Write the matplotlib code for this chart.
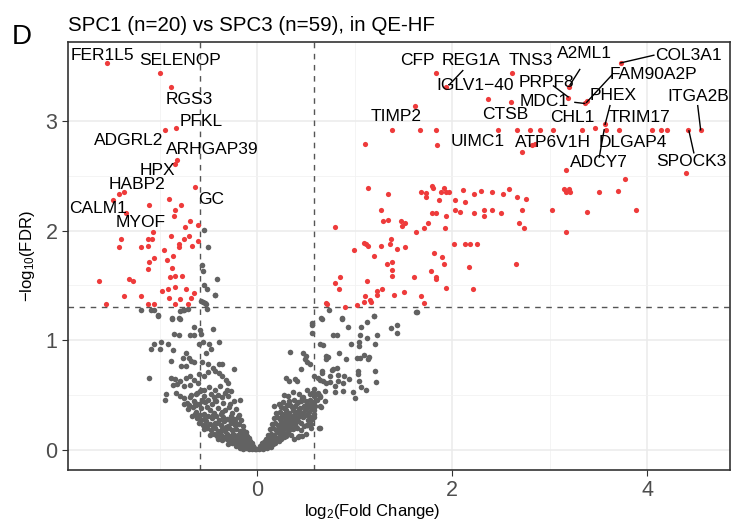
import matplotlib
matplotlib.use("Agg")
import matplotlib.pyplot as plt

plt.rcParams['font.family'] = ['Liberation Sans', 'DejaVu Sans']
plt.rcParams['mathtext.fontset'] = 'custom'
plt.rcParams['mathtext.rm'] = 'Liberation Sans'
plt.rcParams['mathtext.it'] = 'Liberation Sans:italic'

# significant proteins (red), log2 fold change and -log10 FDR
red_x = [-1.54, -1.00, -0.88, -0.83, -0.94, -0.82, -0.84,
         -0.635, -1.37, -1.42, -1.48, -1.11, -0.90, -0.78, -0.84, -1.35, -0.85, -0.69, -0.74, -0.61,
         -1.07, -1.40, -1.12, -1.08, -0.88, -0.70, -0.75, -0.61, -0.80, -0.80, -0.67, -1.42, -1.19,
         -1.12, -0.96, -0.86, -1.06, -0.92, -1.11, -1.12, -0.87, -0.89, -0.84, -0.77, -1.62, -1.31,
         -1.27, -0.98, -0.91, -0.84, -0.73, -0.65, -1.37, -1.19, -0.90, -0.79, -0.68, -1.55, -1.12,
         -1.06, -0.84, -0.71,
         1.83, 1.94, 1.62, 1.38, 1.67, 1.83, 1.11, 1.85, 2.37, 2.60, 2.61, 2.47, 2.67,
         3.73, 3.20, 3.19, 3.36, 3.38, 3.47, 3.57,
         2.80, 2.90, 3.04, 3.33, 3.58, 3.71, 4.05, 4.14, 4.20, 4.42, 4.55,
         2.85, 2.82, 2.72, 3.17, 3.77, 4.40,
         1.14, 1.34, 1.68, 1.73, 1.73, 1.79, 1.80, 1.92, 1.89, 1.94, 1.97, 1.87, 2.03, 2.11, 2.13,
         2.23, 2.30, 2.41, 2.52, 2.58, 2.67, 2.76, 2.72, 2.69, 2.74, 2.03, 2.08, 2.23, 2.33, 2.33,
         2.41, 2.50, 1.27, 1.29, 1.34, 1.48, 1.52, 1.49, 1.75, 1.79, 1.84, 1.94, 1.71, 1.93, 1.63,
         0.80, 1.10, 1.12, 1.14, 1.37, 1.36, 1.27, 1.52, 1.44, 0.99, 1.20, 2.02, 2.13, 2.18, 2.26,
         1.81, 1.90, 1.92, 2.66, 2.17, 1.38, 1.33, 1.38, 1.38, 1.61, 1.78, 1.83, 1.83, 0.85, 0.80,
         0.84, 1.13, 1.28, 1.23, 1.23, 1.94, 2.21, 1.51, 1.40, 1.11, 1.16, 1.17, 1.10, 1.68, 1.71,
         1.02, 0.90, 0.71, 0.72,
         3.15, 3.20, 3.17, 3.21, 3.51, 3.70, 3.03, 3.38, 3.89, 3.17]
red_y = [3.53, 3.44, 3.31, 2.94, 2.92, 2.64, 2.61,
         2.40, 2.35, 2.33, 2.28, 2.23, 2.29, 2.23, 2.19, 2.16, 2.13, 2.09, 2.03, 2.05,
         1.99, 1.92, 1.92, 1.92, 1.95, 1.95, 1.92, 1.91, 1.88, 1.85, 1.86, 1.85, 1.85,
         1.86, 1.82, 1.77, 1.75, 1.73, 1.71, 1.65, 1.66, 1.58, 1.59, 1.59, 1.54, 1.56,
         1.54, 1.45, 1.47, 1.49, 1.47, 1.43, 1.40, 1.40, 1.39, 1.38, 1.39, 1.33, 1.33,
         1.33, 1.33, 1.33,
         3.44, 3.31, 3.14, 2.92, 2.92, 2.92, 2.79, 2.78, 3.20, 3.17, 3.44, 2.92, 2.92,
         3.53, 3.31, 3.21, 3.16, 3.18, 2.94, 2.97,
         2.92, 2.92, 2.92, 2.92, 2.92, 2.92, 2.92, 2.92, 2.92, 2.92, 2.92,
         2.79, 2.78, 2.72, 2.55, 2.47, 2.53,
         2.39, 2.33, 2.35, 2.34, 2.31, 2.41, 2.39, 2.39, 2.35, 2.35, 2.35, 2.28, 2.28, 2.37, 2.26,
         2.33, 2.36, 2.35, 2.33, 2.38, 2.31, 2.29, 2.19, 2.07, 2.02, 2.19, 2.17, 2.16, 2.19, 2.13,
         2.19, 2.16, 2.19, 2.09, 2.10, 2.09, 2.07, 2.04, 2.07, 2.16, 2.16, 2.13, 2.02, 2.02, 1.99,
         2.03, 1.89, 1.88, 1.86, 1.92, 1.88, 1.86, 1.85, 1.83, 1.82, 1.77, 1.88, 1.88, 1.88, 1.88,
         1.80, 1.76, 1.70, 1.70, 1.67, 1.71, 1.70, 1.64, 1.59, 1.58, 1.63, 1.58, 1.56, 1.58, 1.52,
         1.47, 1.54, 1.47, 1.45, 1.41, 1.48, 1.47, 1.44, 1.41, 1.40, 1.37, 1.35, 1.35, 1.40, 1.34,
         1.32, 1.30, 1.34, 1.33,
         2.38, 2.38, 2.35, 2.35, 2.35, 2.36, 2.19, 2.17, 2.19, 1.99]

# non-significant proteins (grey)
grey_pts = [
    # left arm, upper scatter
    (-0.54, 2.01), (-0.50, 1.85), (-0.57, 1.69), (-0.56, 1.63), (-0.41, 1.56), (-0.55, 1.50),
    (-0.51, 1.47), (-0.43, 1.41), (-0.58, 1.36), (-0.53, 1.34), (-0.51, 1.29), (-1.19, 1.28),
    (-1.09, 1.28), (-1.02, 1.22), (-0.87, 1.20), (-0.80, 1.20), (-0.75, 1.28), (-0.71, 1.29),
    (-0.79, 1.27), (-1.06, 1.28), (-1.02, 1.23), (-0.87, 1.19), (-0.79, 1.19), (-0.76, 1.28),
    (-0.65, 1.12), (-0.69, 1.05), (-0.65, 1.05), (-0.59, 1.09), (-0.58, 1.06), (-0.45, 1.10),
    (-0.43, 1.41), (-0.56, 1.35), (-0.52, 1.33), (-0.85, 1.06), (-0.80, 1.05), (-1.06, 0.97),
    (-0.99, 0.98), (-0.91, 0.97), (-1.09, 0.92), (-1.00, 0.92), (-0.86, 0.91), (-0.60, 0.97),
    (-0.56, 0.98), (-0.49, 0.97), (-0.39, 0.98), (-0.47, 0.92), (-0.52, 0.88), (-0.73, 0.88),
    (-0.76, 0.84), (-0.70, 0.84), (-0.68, 0.81), (-0.88, 0.81), (-0.65, 0.80), (-0.78, 0.77),
    (-0.73, 0.77), (-0.57, 0.80), (-0.50, 0.78), (-0.45, 0.75), (-0.39, 0.78), (-0.36, 0.78),
    (-0.24, 0.74), (-1.11, 0.66), (-0.88, 0.66), (-0.84, 0.65), (-0.79, 0.63), (-0.73, 0.66),
    (-0.69, 0.67), (-0.65, 0.64), (-0.61, 0.61), (-0.60, 0.69), (-0.55, 0.67), (-0.50, 0.71),
    (-0.43, 0.72), (-0.39, 0.70), (-0.36, 0.67), (-0.32, 0.64), (-0.30, 0.61), (-0.86, 0.59),
    (-0.82, 0.60), (-0.75, 0.58), (-0.69, 0.59), (-0.93, 0.51), (-0.94, 0.46), (-0.83, 0.52),
    (-0.79, 0.49), (-0.75, 0.47), (-0.69, 0.48), (-0.63, 0.51), (-0.59, 0.54), (-0.54, 0.55),
    (-0.49, 0.57), (-0.43, 0.55), (-0.38, 0.58), (-0.31, 0.55), (-0.27, 0.54), (-0.75, 0.42),
    (-0.70, 0.41), (-0.64, 0.43), (-0.56, 0.45), (-0.50, 0.46), (-0.43, 0.46), (-0.36, 0.48),
    (-0.30, 0.49), (-0.24, 0.45), (-0.18, 0.46),
    # left arm, dense core
    (-0.71, 0.37), (-0.66, 0.39), (-0.63, 0.35), (-0.58, 0.38), (-0.55, 0.33), (-0.51, 0.39),
    (-0.48, 0.36), (-0.44, 0.34), (-0.40, 0.38), (-0.37, 0.33), (-0.33, 0.36), (-0.29, 0.39),
    (-0.26, 0.34), (-0.22, 0.37), (-0.19, 0.32), (-0.67, 0.31), (-0.62, 0.29), (-0.59, 0.32),
    (-0.54, 0.28), (-0.50, 0.31), (-0.46, 0.29), (-0.42, 0.31), (-0.39, 0.27), (-0.35, 0.30),
    (-0.31, 0.28), (-0.27, 0.31), (-0.24, 0.28), (-0.20, 0.30), (-0.17, 0.27), (-0.60, 0.25),
    (-0.56, 0.23), (-0.52, 0.26), (-0.48, 0.24), (-0.45, 0.22), (-0.41, 0.25), (-0.37, 0.23),
    (-0.34, 0.26), (-0.30, 0.22), (-0.27, 0.25), (-0.23, 0.23), (-0.19, 0.24), (-0.15, 0.22),
    (-0.55, 0.19), (-0.51, 0.20), (-0.47, 0.18), (-0.43, 0.20), (-0.40, 0.17), (-0.36, 0.19),
    (-0.33, 0.17), (-0.29, 0.20), (-0.26, 0.18), (-0.22, 0.19), (-0.18, 0.17), (-0.14, 0.18),
    (-0.11, 0.16), (-0.48, 0.14), (-0.44, 0.15), (-0.41, 0.13), (-0.37, 0.14), (-0.34, 0.12),
    (-0.31, 0.15), (-0.28, 0.13), (-0.24, 0.14), (-0.21, 0.12), (-0.17, 0.14), (-0.13, 0.12),
    (-0.10, 0.13), (-0.08, 0.11), (-0.40, 0.10), (-0.36, 0.09), (-0.33, 0.11), (-0.29, 0.08),
    (-0.26, 0.10), (-0.23, 0.08), (-0.19, 0.09), (-0.16, 0.07), (-0.13, 0.09), (-0.10, 0.07),
    (-0.07, 0.08), (-0.05, 0.06), (-0.30, 0.05), (-0.26, 0.06), (-0.22, 0.04), (-0.19, 0.05),
    (-0.16, 0.04), (-0.13, 0.05), (-0.10, 0.03), (-0.08, 0.04), (-0.06, 0.03), (-0.04, 0.04),
    (-0.03, 0.02), (-0.18, 0.02), (-0.14, 0.01), (-0.11, 0.02), (-0.08, 0.01), (-0.05, 0.01),
    (-0.02, 0.01), (-0.01, 0.005), (-0.72, 0.43), (-0.65, 0.45), (-0.60, 0.42), (-0.53, 0.44),
    (-0.46, 0.42), (-0.42, 0.45), (-0.35, 0.43), (-0.28, 0.42), (-0.63, 0.41), (-0.57, 0.46),
    (-0.68, 0.50), (-0.62, 0.52), (-0.55, 0.49), (-0.47, 0.51), (-0.40, 0.50), (-0.33, 0.52),
    (-0.44, 0.48), (-0.58, 0.55),
    (-0.35, 0.12), (-0.31, 0.10), (-0.27, 0.11), (-0.24, 0.07), (-0.21, 0.09), (-0.17, 0.10),
    (-0.15, 0.06), (-0.12, 0.08), (-0.09, 0.05), (-0.07, 0.06), (-0.12, 0.03), (-0.15, 0.03),
    (-0.20, 0.06), (-0.25, 0.15), (-0.20, 0.14), (-0.16, 0.16), (-0.12, 0.14), (-0.09, 0.10),
    (-0.38, 0.16), (-0.43, 0.25), (-0.32, 0.21), (-0.28, 0.27), (-0.23, 0.26), (-0.52, 0.22),
    (-0.58, 0.27), (-0.64, 0.33), (-0.45, 0.32), (-0.36, 0.35),
    # right arm, upper scatter
    (0.74, 1.28), (0.67, 1.19), (0.87, 1.19), (0.93, 1.12), (1.07, 1.12), (1.13, 1.17),
    (1.20, 1.22), (1.37, 1.11), (1.44, 1.14), (1.44, 1.07), (1.23, 1.05), (1.06, 1.05),
    (1.13, 1.02), (0.78, 1.05), (0.82, 1.05), (1.21, 0.97), (0.96, 0.97), (1.04, 0.98),
    (1.05, 0.95), (1.64, 1.26), (0.65, 0.97), (0.68, 0.96), (0.56, 1.16), (0.56, 1.07),
    (0.50, 0.86), (0.71, 0.83), (0.73, 0.85), (0.84, 0.88), (0.91, 0.83), (1.02, 0.84),
    (1.06, 0.84), (1.10, 0.87), (1.15, 0.85), (1.14, 0.83), (0.54, 0.78), (0.67, 0.72),
    (0.67, 0.70), (0.77, 0.73), (0.82, 0.75), (1.03, 0.72), (1.03, 0.69), (1.21, 0.72),
    (0.58, 0.67), (0.62, 0.66), (0.65, 0.64), (0.68, 0.63), (0.71, 0.61), (0.75, 0.62),
    (0.75, 0.67), (0.83, 0.68), (0.83, 0.63), (0.89, 0.67), (0.94, 0.65), (0.88, 0.61),
    (1.05, 0.63), (1.07, 0.57), (1.12, 0.55), (1.22, 0.62), (0.80, 0.58), (0.80, 0.53),
    (0.88, 0.54), (0.98, 0.53), (1.00, 0.47), (0.58, 0.56), (0.60, 0.51), (0.65, 0.49),
    (0.70, 0.45), (0.65, 0.40), (0.58, 0.33), (0.56, 0.28), (0.63, 0.20), (0.55, 0.20),
    (0.51, 0.23), (0.66, 1.20), (0.87, 1.20), (1.20, 1.22), (1.63, 1.26), (0.34, 0.89),
    (0.47, 0.88), (0.45, 0.74), (0.56, 1.14), (0.49, 0.83), (0.51, 0.80), (0.71, 0.86),
    (0.78, 0.74), (0.30, 0.66), (0.33, 0.63), (0.39, 0.65), (0.41, 0.63), (0.28, 0.50),
    (0.32, 0.49), (0.37, 0.53), (0.43, 0.51), (0.47, 0.48), (0.51, 0.55), (0.54, 0.51),
    (0.58, 0.49), (0.62, 0.52), (0.65, 0.48), (0.70, 0.54), (0.17, 0.40), (0.22, 0.42),
    (0.27, 0.44), (0.34, 0.41), (0.41, 0.43), (0.45, 0.45), (0.51, 0.42), (0.58, 0.44),
    (0.66, 0.39), (0.58, 0.36), (0.54, 0.30), (0.64, 0.20), (0.43, 0.13), (0.46, 0.13),
    (0.41, 0.20), (0.51, 0.23),
    # right arm, dense core
    (0.02, 0.01), (0.04, 0.02), (0.06, 0.01), (0.08, 0.03), (0.10, 0.02), (0.12, 0.04),
    (0.03, 0.04), (0.14, 0.03), (0.16, 0.05), (0.05, 0.06), (0.07, 0.07), (0.10, 0.06),
    (0.13, 0.08), (0.16, 0.07), (0.19, 0.09), (0.22, 0.08), (0.09, 0.10), (0.12, 0.11),
    (0.15, 0.10), (0.18, 0.12), (0.21, 0.11), (0.25, 0.10), (0.28, 0.12), (0.11, 0.14),
    (0.14, 0.15), (0.17, 0.14), (0.20, 0.16), (0.23, 0.15), (0.26, 0.17), (0.29, 0.15),
    (0.32, 0.16), (0.35, 0.14), (0.13, 0.19), (0.16, 0.20), (0.19, 0.18), (0.22, 0.21),
    (0.25, 0.19), (0.28, 0.21), (0.31, 0.20), (0.34, 0.22), (0.37, 0.19), (0.40, 0.21),
    (0.15, 0.24), (0.18, 0.25), (0.21, 0.23), (0.24, 0.26), (0.27, 0.24), (0.30, 0.26),
    (0.33, 0.25), (0.36, 0.27), (0.39, 0.24), (0.42, 0.26), (0.45, 0.25), (0.17, 0.29),
    (0.20, 0.30), (0.23, 0.28), (0.26, 0.31), (0.29, 0.29), (0.32, 0.31), (0.35, 0.30),
    (0.38, 0.32), (0.41, 0.29), (0.44, 0.31), (0.47, 0.30), (0.50, 0.32), (0.19, 0.34),
    (0.23, 0.35), (0.26, 0.33), (0.30, 0.36), (0.33, 0.34), (0.37, 0.36), (0.40, 0.35),
    (0.43, 0.37), (0.46, 0.34), (0.49, 0.36), (0.53, 0.35), (0.56, 0.37), (0.24, 0.39),
    (0.28, 0.38), (0.31, 0.41), (0.36, 0.39), (0.39, 0.40), (0.44, 0.38), (0.48, 0.40),
    (0.52, 0.39), (0.55, 0.41), (0.59, 0.40), (0.33, 0.45), (0.38, 0.46), (0.42, 0.44),
    (0.46, 0.47), (0.50, 0.45), (0.54, 0.46), (0.57, 0.44), (0.61, 0.46), (0.63, 0.50),
    (0.56, 0.52), (0.48, 0.22), (0.52, 0.27), (0.55, 0.24), (0.58, 0.30), (0.45, 0.18),
    (0.50, 0.15), (0.42, 0.12), (0.38, 0.10),
    (0.03, 0.02), (0.05, 0.03), (0.07, 0.04), (0.09, 0.05), (0.11, 0.07), (0.13, 0.05),
    (0.15, 0.08), (0.18, 0.06), (0.20, 0.10), (0.23, 0.12), (0.26, 0.13), (0.30, 0.13),
    (0.27, 0.18), (0.24, 0.22), (0.30, 0.23), (0.34, 0.19), (0.36, 0.24), (0.40, 0.27),
    (0.43, 0.33), (0.38, 0.29), (0.33, 0.28), (0.29, 0.33), (0.08, 0.08), (0.17, 0.11),
    (0.21, 0.19),
]
grey_x = [p[0] for p in grey_pts]
grey_y = [p[1] for p in grey_pts]

# gene labels: text, label position, optional leader segment end near the point
labels = [
    ("FER1L5", -1.59, 3.60, None), ("SELENOP", -0.79, 3.55, None), ("RGS3", -0.70, 3.20, None),
    ("PFKL", -0.57, 3.00, None), ("ADGRL2", -1.32, 2.82, None), ("ARHGAP39", -0.46, 2.74, None),
    ("HPX", -1.02, 2.55, None), ("HABP2", -1.23, 2.42, None), ("CALM1", -1.63, 2.20, None),
    ("GC", -0.47, 2.28, None), ("MYOF", -1.20, 2.07, None),
    ("CFP", 1.64, 3.55, None), ("REG1A", 2.19, 3.55, ((2.11, 3.46), (1.97, 3.33))),
    ("TNS3", 2.81, 3.55, None), ("A2ML1", 3.36, 3.62, ((3.31, 3.47), (3.21, 3.33))),
    ("COL3A1", 4.42, 3.60, ((4.07, 3.60), (3.73, 3.53))),
    ("IGLV1\u221240", 2.24, 3.32, None),
    ("FAM90A2P", 4.07, 3.42, ((3.64, 3.42), (3.38, 3.17))),
    ("PRPF8", 2.97, 3.35, ((3.04, 3.32), (3.19, 3.22))),
    ("MDC1", 2.95, 3.18, ((3.26, 3.17), (3.36, 3.16))),
    ("PHEX", 3.65, 3.23, ((3.62, 3.14), (3.57, 2.97))),
    ("ITGA2B", 4.53, 3.22, ((4.52, 3.14), (4.55, 2.92))),
    ("TIMP2", 1.43, 3.04, None), ("CTSB", 2.55, 3.06, None), ("CHL1", 3.23, 3.03, None),
    ("TRIM17", 3.92, 3.03, None), ("UIMC1", 2.26, 2.81, None), ("ATP6V1H", 3.04, 2.80, None),
    ("DLGAP4", 3.85, 2.80, None), ("ADCY7", 3.51, 2.62, ((3.51, 2.67), (3.56, 2.92))),
    ("SPOCK3", 4.45, 2.63, ((4.48, 2.71), (4.43, 2.91))),
]

fig = plt.figure(figsize=(7.41, 5.29), dpi=100)
ax = fig.add_axes([0.0918, 0.1115, 0.8932, 0.8090])

ax.scatter(grey_x, grey_y, s=16, color='#626262', linewidths=0, zorder=3)
ax.scatter(red_x, red_y, s=14, color='#ee3b3b', linewidths=0, zorder=3)

ax.axvline(-0.585, color='#555555', lw=1, ls=(0, (4, 4)), zorder=2)
ax.axvline(0.585, color='#555555', lw=1, ls=(0, (4, 4)), zorder=2)
ax.axhline(1.301, color='#555555', lw=1, ls=(0, (4, 4)), zorder=2)

for txt, lx, ly, seg in labels:
    ax.text(lx, ly, txt, ha='center', va='center', fontsize=12.5, color='black', zorder=5)
    if seg is not None:
        ax.plot([seg[0][0], seg[1][0]], [seg[0][1], seg[1][1]], color='black', lw=1, zorder=4)

ax.set_xlim(-1.94, 4.85)
ax.set_ylim(-0.183, 3.72)
ax.set_xticks([0, 2, 4])
ax.set_yticks([0, 1, 2, 3])
ax.set_xticks([-1, 1, 3], minor=True)
ax.set_yticks([0.5, 1.5, 2.5], minor=True)
ax.grid(True, which='major', color='#ebebeb', lw=1.1, zorder=0)
ax.grid(True, which='minor', color='#f2f2f2', lw=0.6, zorder=0)
ax.set_axisbelow(True)
ax.tick_params(which='major', length=4, color='#333333', labelsize=15.5, labelcolor='#4d4d4d')
ax.tick_params(which='minor', length=0)
for sp in ax.spines.values():
    sp.set_color('#333333')
    sp.set_linewidth(1.2)

ax.set_xlabel(r'log$_2$(Fold Change)', fontsize=12, labelpad=4)
ax.xaxis.set_label_coords(0.46, -0.075)
ax.set_ylabel(r'$-$log$_{10}$(FDR)', fontsize=12, labelpad=6)

ax.set_title('SPC1 (n=20) vs SPC3 (n=59), in QE-HF', fontsize=14.8, loc='left', pad=8, x=0.0)
fig.text(0.016, 0.93, 'D', fontsize=20, va='center', ha='left')

fig.savefig('out.png', dpi=100)
